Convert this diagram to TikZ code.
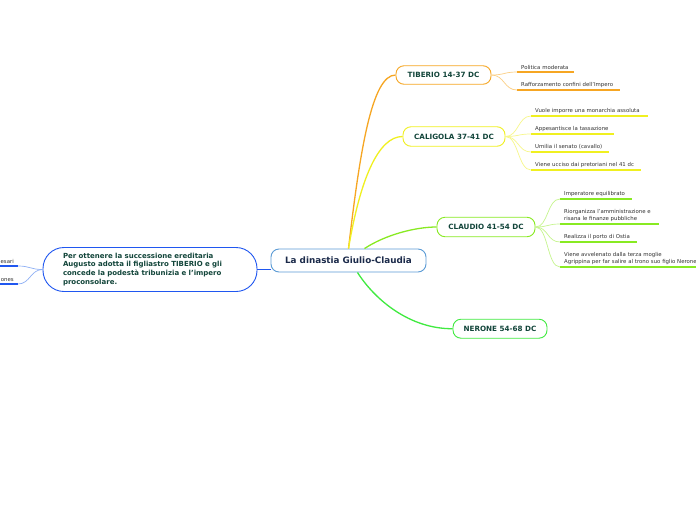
\documentclass[tikz,border=0pt]{standalone}
\usepackage{fontspec}
\setmainfont{DejaVu Sans}
\usetikzlibrary{calc}
\definecolor{orangeB}{HTML}{F6A623}
\definecolor{orangeL}{HTML}{FBCF85}
\definecolor{yellowB}{HTML}{F0F020}
\definecolor{yellowL}{HTML}{F7F78A}
\definecolor{limeB}{HTML}{88EA22}
\definecolor{limeL}{HTML}{C6F58E}
\definecolor{greenB}{HTML}{40EA40}
\definecolor{blueB}{HTML}{2057F0}
\definecolor{blueL}{HTML}{8FB0F5}
\definecolor{centB}{HTML}{5B9BD5}
\definecolor{nodetext}{HTML}{12453A}
\definecolor{centtext}{HTML}{1B2A4A}
\definecolor{leaftext}{HTML}{333333}
\begin{document}
\begin{tikzpicture}[x=1pt,y=-1pt,
  mainnode/.style={draw, line width=0.9pt, rounded corners=8pt, fill=white,
    font=\bfseries\fontsize{7.2}{8}\selectfont, text=nodetext, inner sep=0pt},
  leaf/.style={anchor=south west, inner xsep=4pt, inner ysep=2.4pt,
    font=\fontsize{5.4}{7.2}\selectfont, text=leaftext, align=left, text width=#1},
  leafl/.style={anchor=south east, inner xsep=4pt, inner ysep=2.4pt,
    font=\fontsize{5.4}{7.2}\selectfont, text=leaftext, align=right, text width=#1},
  ul/.style={line width=1.8pt},
  conn/.style={line width=0.7pt},
  mainconn/.style={line width=1.3pt}
]
\useasboundingbox[fill=white] (0,0) rectangle (696,520);

% central node
\node[draw=centB, line width=0.9pt, rounded corners=8pt, fill=white,
      minimum width=155pt, minimum height=23pt, inner sep=0pt,
      font=\bfseries\fontsize{8.8}{10}\selectfont, text=centtext] (c) at (348.5,260.5) {La dinastia Giulio-Claudia};

% left node
\node[draw=blueB, line width=0.9pt, rounded corners=21pt, fill=white,
      minimum width=214pt, minimum height=44pt, inner xsep=20pt, inner ysep=0pt,
      text width=174pt, align=left,
      font=\bfseries\fontsize{7}{8.9}\selectfont, text=nodetext] (ln) at (150,269.5)
  {Per ottenere la successione ereditaria\\Augusto adotta il figliastro TIBERIO e gli\\concede la podest\`a tribunizia e l'impero\\proconsolare.};

% branch nodes
\node[mainnode, draw=orangeB, minimum width=95pt, minimum height=18.5pt] (tib) at (443.5,75) {TIBERIO 14-37 DC};
\node[mainnode, draw=yellowB, minimum width=102pt, minimum height=19.5pt] (cal) at (454,136.5) {CALIGOLA 37-41 DC};
\node[mainnode, draw=limeB, minimum width=98pt, minimum height=19.5pt] (cla) at (486,227) {CLAUDIO 41-54 DC};
\node[mainnode, draw=greenB, minimum width=94pt, minimum height=19pt] (ner) at (500,328.7) {NERONE 54-68 DC};

% main connectors
\draw[mainconn, orangeB] (c.north) .. controls (360,150) and (372,75) .. (tib.west);
\draw[mainconn, yellowB] (c.north) .. controls (360,180) and (378,136.5) .. (cal.west);
\draw[mainconn, limeB] ($(c.north)+(16,0)$) .. controls (385,235) and (415,227) .. (cla.west);
\draw[mainconn, greenB] ($(c.south)+(9,0)$) .. controls (375,300) and (410,329) .. (ner.west);
\draw[mainconn, blueB] (ln.east) -- (ln.east -| c.west);

% TIBERIO leaves
\node[leaf=49pt] (t1) at (517,72) {Politica moderata};
\node[leaf=94.6pt] (t2) at (517,90) {Rafforzamento confini dell'Impero};
\foreach \n in {t1,t2}{
  \draw[ul, orangeB] (\n.south west) -- (\n.south east);
  \draw[conn, orangeL] (tib.east) .. controls +(13,0) and +(-13,0) .. (\n.south west);
}

% CALIGOLA leaves
\node[leaf=109pt] (k1) at (531,116) {Vuole imporre una monarchia assoluta};
\node[leaf=75pt] (k2) at (531,134) {Appesantisce la tassazione};
\node[leaf=70pt] (k3) at (531,152) {Umilia il senato (cavallo)};
\node[leaf=102pt] (k4) at (531,170) {Viene ucciso dai pretoriani nel 41 dc};
\foreach \n in {k1,k2,k3,k4}{
  \draw[ul, yellowB] (\n.south west) -- (\n.south east);
  \draw[conn, yellowL] (cal.east) .. controls +(13,0) and +(-13,0) .. (\n.south west);
}

% CLAUDIO leaves
\node[leaf=63.7pt] (d1) at (560,199) {Imperatore equilibrato};
\node[leaf=91pt] (d2) at (560,224) {Riorganizza l'amministrazione e\\risana le finanze pubbliche};
\node[leaf=68.7pt] (d3) at (560,242) {Realizza il porto di Ostia};
\node[leaf=170pt] (d4) at (560,267) {Viene avvelenato dalla terza moglie\\Agrippina per far salire al trono suo figlio Nerone};
\foreach \n in {d1,d2,d3,d4}{
  \draw[ul, limeB] (\n.south west) -- (\n.south east);
  \draw[conn, limeL] (cla.east) .. controls +(13,0) and +(-13,0) .. (\n.south west);
}

% left leaves (cut by the page edge)
\node[leafl=30pt] (l1) at (18,266) {esari};
\node[leafl=30pt] (l2) at (18,284) {ones};
\foreach \n in {l1,l2}{
  \draw[ul, blueB] (\n.south west) -- (\n.south east);
  \draw[conn, blueL] (ln.west) .. controls +(-12,0) and +(12,0) .. (\n.south east);
}
\end{tikzpicture}
\end{document}
